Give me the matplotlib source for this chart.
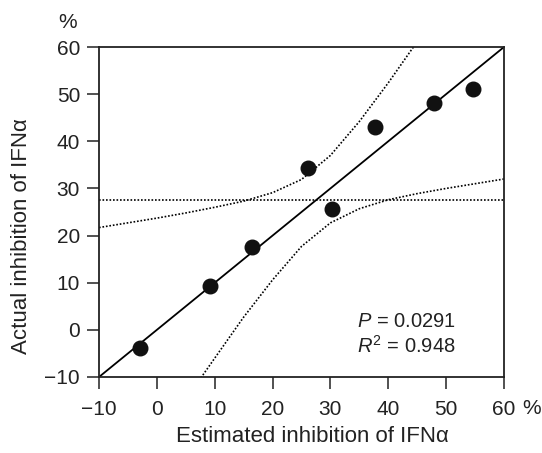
import numpy as np
import matplotlib.pyplot as plt

plt.rcParams['font.family'] = ['Liberation Sans', 'DejaVu Sans']
plt.rcParams['font.size'] = 15
plt.rcParams['mathtext.fontset'] = 'custom'
plt.rcParams['mathtext.rm'] = 'Liberation Sans'
plt.rcParams['mathtext.it'] = 'Liberation Sans:italic'

# measured points
est = [-2.9, 9.2, 16.4, 26.2, 30.2, 37.7, 47.9, 54.7]
act = [-3.9, 9.3, 17.6, 34.4, 25.6, 43.1, 48.1, 51.1]

# fitted line
fit_x = [-10, 60]
fit_y = [-10, 60]

# mean line
mean_y = 27.5

# confidence bands
upper_x = [-10, -5, 0, 5, 10, 15, 20, 25, 30, 35, 40, 44, 45]
upper_y = [21.7, 22.7, 23.7, 24.8, 26.0, 27.3, 29.1, 31.9, 37.0, 44.2, 52.4, 59.4, 61.1]
lower_x = [7.6, 10, 15, 20, 25, 30, 35, 40, 45, 50, 55, 60]
lower_y = [-10.2, -6.0, 2.7, 10.6, 17.7, 22.7, 25.7, 27.6, 28.9, 30.0, 31.0, 32.0]

fig = plt.figure(figsize=(5.42, 4.53), dpi=100)
ax = fig.add_axes([99/542, 1 - 377/453, 405/542, 330/453])

ax.plot(fit_x, fit_y, color='black', lw=1.3, zorder=2)
ax.plot([-10, 60], [mean_y, mean_y], color='black', lw=1.2, ls=(0, (1, 1.1)), zorder=2)
ax.plot(upper_x, upper_y, color='black', lw=1.2, ls=(0, (1, 1.1)), zorder=2)
ax.plot(lower_x, lower_y, color='black', lw=1.2, ls=(0, (1, 1.1)), zorder=2)
ax.scatter(est, act, s=110, color='#111111', zorder=3)

ax.set_xlim(-10, 60)
ax.set_ylim(-10, 60)
ax.set_xticks(range(-10, 61, 10))
ax.set_yticks(range(-10, 61, 10))
ax.tick_params(direction='out', length=8.6, width=1.1, pad=5, color='#222222',
               labelcolor='#222222')
ax.tick_params(axis='x', pad=8)
for s in ax.spines.values():
    s.set_linewidth(1.3)
    s.set_color('#222222')

ax.set_xlabel('Estimated inhibition of IFNα', fontsize=16, color='#222222',
              va='center')
ax.xaxis.set_label_coords((312 - 99) / 405, (377 - 437) / 330)
ax.set_ylabel('Actual inhibition of IFNα', fontsize=16, color='#222222',
              va='center')
ax.yaxis.set_label_coords((22 - 99) / 405, (377 - 236) / 330)

fig.text(68/542, 1 - 22.5/453, '%', ha='center', va='center', color='#222222')
fig.text(532/542, 1 - 408/453, '%', ha='center', va='center', color='#222222')

ax.text(34.6, 1.8, '$P$ = 0.0291', ha='left', va='center', fontsize=14.5,
        color='#222222')
ax.text(34.6, -3.4, '$R^2$ = 0.948', ha='left', va='center', fontsize=14.5,
        color='#222222')

fig.savefig('out.png', dpi=100)
